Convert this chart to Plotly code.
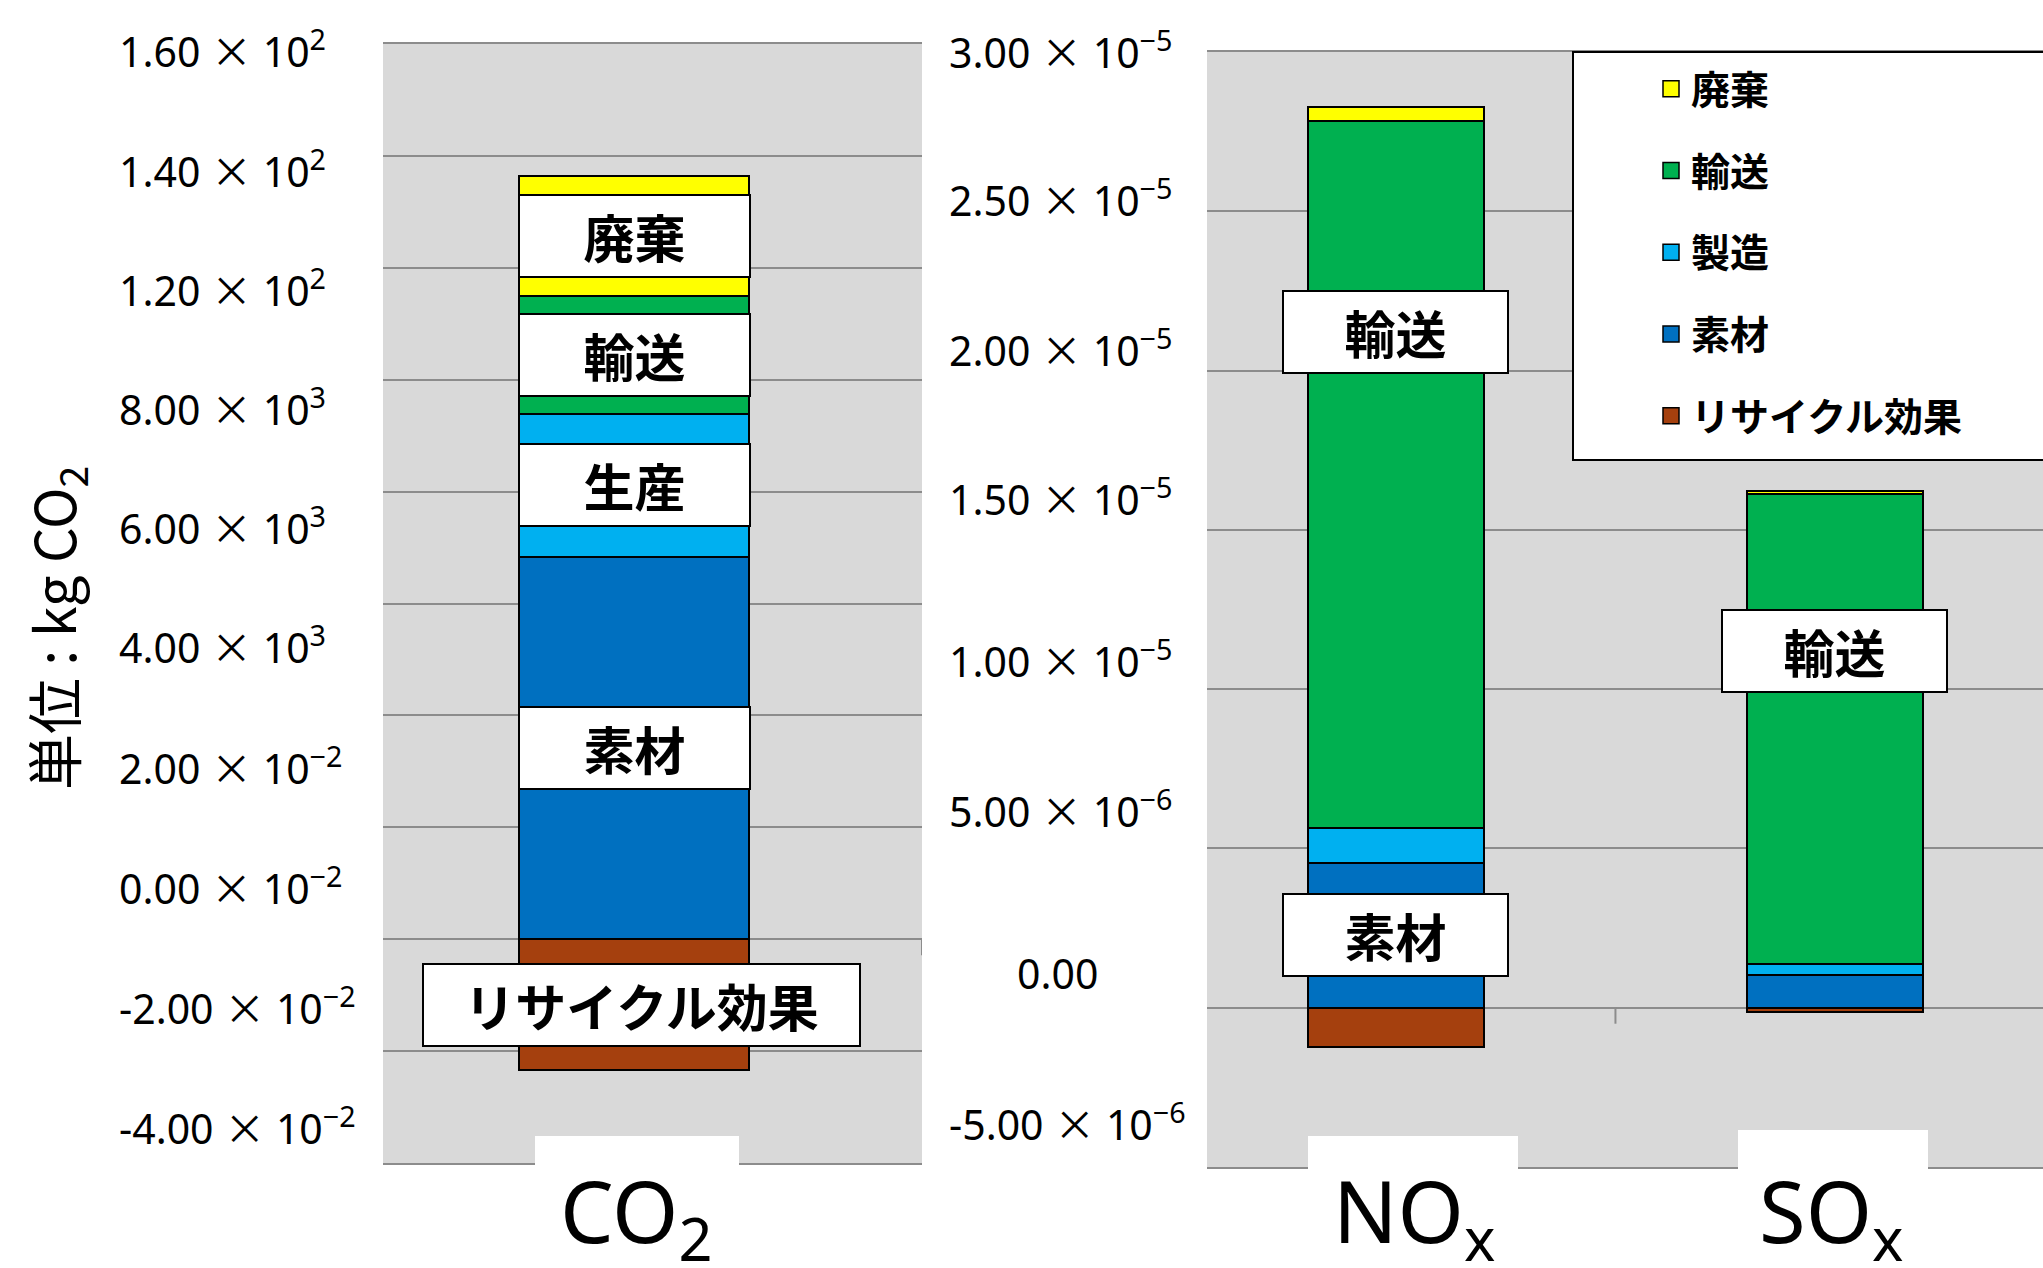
import plotly.graph_objects as go

W, H = 2043, 1268

# ---- data -------------------------------------------------------------
gases = ["CO2", "NOx", "SOx"]
gas_labels = ["CO<sub>2</sub>", "NO<sub>x</sub>", "SO<sub>x</sub>"]

# life-cycle contributions (CO2 panel on the left, NOx / SOx on the right)
material = [68.4, 4.55e-6, 1.03e-6]        # 素材
manufacturing = [25.5, 1.10e-6, 0.35e-6]   # 製造
transport = [21.0, 2.217e-5, 1.475e-5]     # 輸送
disposal = [21.5, 4.5e-7, 9.0e-8]          # 廃棄
recycling = [-23.4, -1.23e-6, -1.3e-7]     # リサイクル効果

stage_names = ["素材", "製造", "輸送", "廃棄", "リサイクル効果"]
stage_values = [material, manufacturing, transport, disposal, recycling]
legend_order = ["廃棄", "輸送", "製造", "素材", "リサイクル効果"]

# full-width multiplication sign, as in Japanese typesetting
TIMES = "<span style='font-family:Noto Sans CJK JP'>×</span>"
left_tick_text = [
    "1.60 {} 10<sup>2</sup>", "1.40 {} 10<sup>2</sup>", "1.20 {} 10<sup>2</sup>",
    "8.00 {} 10<sup>3</sup>", "6.00 {} 10<sup>3</sup>", "4.00 {} 10<sup>3</sup>",
    "2.00 {} 10<sup>−2</sup>", "0.00 {} 10<sup>−2</sup>",
    "-2.00 {} 10<sup>−2</sup>", "-4.00 {} 10<sup>−2</sup>",
]
right_tick_text = [
    "3.00 {} 10<sup>−5</sup>", "2.50 {} 10<sup>−5</sup>", "2.00 {} 10<sup>−5</sup>",
    "1.50 {} 10<sup>−5</sup>", "1.00 {} 10<sup>−5</sup>", "5.00 {} 10<sup>−6</sup>",
    "0.00", "-5.00 {} 10<sup>−6</sup>",
]

# ---- styling ----------------------------------------------------------
colors = {
    "廃棄": "#FFFF00",
    "輸送": "#00B050",
    "製造": "#00B0F0",
    "素材": "#0070C0",
    "リサイクル効果": "#A5400E",
}
CJK = "Noto Sans CJK JP"
LATIN = "Noto Sans"
GRID = "#8C8C8C"
PLOT_BG = "#D9D9D9"

def px_x(p):
    return p / W

def px_y(p):
    return 1 - p / H

LEFT_DOM_X = [px_x(383), px_x(922)]
LEFT_DOM_Y = [px_y(1163), px_y(44)]
RIGHT_DOM_X = [px_x(1207), 1.0]
RIGHT_DOM_Y = [px_y(1167), px_y(52)]
LEFT_RANGE = [-40, 160]
RIGHT_RANGE = [-5e-6, 3e-5]

fig = go.Figure()

# stacked bars: CO2 on the left subplot, NOx/SOx on the right subplot
for name, vals in zip(stage_names, stage_values):
    common = dict(
        name=name, legendgroup=name, showlegend=False, width=0.4,
        marker=dict(color=colors[name], line=dict(color="black", width=2)),
        hoverinfo="skip",
    )
    fig.add_trace(go.Bar(x=[gases[0]], y=[vals[0]], xaxis="x", yaxis="y", **common))
    fig.add_trace(go.Bar(x=gases[1:], y=vals[1:], xaxis="x2", yaxis="y2", **common))

# legend entries (square swatches)
for name in legend_order:
    fig.add_trace(go.Scatter(
        x=[None], y=[None], mode="markers", name=name, legendgroup=name,
        marker=dict(symbol="square", size=16, color=colors[name],
                    line=dict(color="black", width=1.5)),
        xaxis="x", yaxis="y",
    ))

axis_common = dict(showticklabels=False, ticks="", zeroline=False)
fig.update_layout(
    width=W, height=H, autosize=False,
    margin=dict(l=0, r=0, t=0, b=0),
    paper_bgcolor="white", plot_bgcolor=PLOT_BG,
    barmode="relative", bargap=0,
    xaxis=dict(domain=LEFT_DOM_X, type="category", range=[-0.437, 0.5],
               showgrid=False, showline=True, mirror=True, linecolor=GRID,
               linewidth=2, anchor="y", **axis_common),
    yaxis=dict(domain=LEFT_DOM_Y, range=LEFT_RANGE, dtick=20, tick0=0,
               showgrid=True, gridcolor=GRID, gridwidth=2, anchor="x",
               **axis_common),
    xaxis2=dict(domain=RIGHT_DOM_X, type="category", range=[-0.4305, 1.474],
                showgrid=False, showline=True, mirror=True, linecolor=GRID,
                linewidth=2, anchor="y2", **axis_common),
    yaxis2=dict(domain=RIGHT_DOM_Y, range=RIGHT_RANGE, dtick=5e-6, tick0=0,
                showgrid=True, gridcolor=GRID, gridwidth=2, anchor="x2",
                **axis_common),
    legend=dict(
        x=px_x(1651), y=px_y(57), xanchor="left", yanchor="top",
        bgcolor="rgba(0,0,0,0)", borderwidth=0,
        font=dict(family=CJK, size=39, color="black", weight="bold"),
        traceorder="grouped", tracegroupgap=28,
    ),
    showlegend=True,
)

# category boundary ticks on the zero line
left_tick_len = 16 * (LEFT_RANGE[1] - LEFT_RANGE[0]) / (1163 - 44)
right_tick_len = 16 * (RIGHT_RANGE[1] - RIGHT_RANGE[0]) / (1167 - 52)
fig.add_shape(type="line", xref="x", yref="y", x0=0.5, x1=0.5, y0=0, y1=-left_tick_len,
              line=dict(color=GRID, width=2))
fig.add_shape(type="line", xref="x2", yref="y2", x0=0.5, x1=0.5, y0=0, y1=-right_tick_len,
              line=dict(color=GRID, width=2))

# legend frame
fig.add_shape(type="rect", xref="paper", yref="paper",
              x0=px_x(1573), x1=1.01, y0=px_y(460), y1=px_y(52),
              fillcolor="white", line=dict(color="black", width=2), layer="above")

# white backing boxes under the gas names
cat_boxes = [(535, 739, 1136), (1308, 1518, 1136), (1738, 1928, 1130)]
for x0, x1, top in cat_boxes:
    fig.add_shape(type="rect", xref="paper", yref="paper",
                  x0=px_x(x0), x1=px_x(x1), y0=-0.05, y1=px_y(top),
                  fillcolor="white", line=dict(width=0), layer="above")

# gas names
cat_x = [(px_x(636), gas_labels[0]), (px_x(1414), gas_labels[1]), (px_x(1831), gas_labels[2])]
for x, txt in cat_x:
    fig.add_annotation(x=x, y=px_y(1150), xref="paper", yref="paper",
                       xanchor="center", yanchor="top", text=txt, showarrow=False,
                       font=dict(family=LATIN, size=85, color="black"))

# y tick labels
left_tick_y = [49, 169, 288, 407, 526, 645, 766, 886, 1006, 1126]
for txt, yp in zip(left_tick_text, left_tick_y):
    fig.add_annotation(x=px_x(117), y=px_y(yp), xref="paper", yref="paper",
                       xanchor="left", yanchor="middle", text=txt.format(TIMES),
                       showarrow=False,
                       font=dict(family=LATIN, size=41, color="black"))

right_tick_y = [50, 198, 348, 497, 659, 809, 973, 1122]
for txt, yp in zip(right_tick_text, right_tick_y):
    if txt == "0.00":
        fig.add_annotation(x=px_x(1057), y=px_y(yp), xref="paper", yref="paper",
                           xanchor="center", yanchor="middle", text=txt, showarrow=False,
                           font=dict(family=LATIN, size=41, color="black"))
    else:
        fig.add_annotation(x=px_x(947), y=px_y(yp), xref="paper", yref="paper",
                           xanchor="left", yanchor="middle", text=txt.format(TIMES),
                           showarrow=False,
                           font=dict(family=LATIN, size=41, color="black"))

# y axis title
fig.add_annotation(x=px_x(55), y=px_y(628), xref="paper", yref="paper",
                   xanchor="center", yanchor="middle", textangle=-90,
                   text="単位 : kg CO<sub>2</sub>", showarrow=False,
                   font=dict(family=CJK, size=56, color="black"))

# stage labels on the bars
def stage_label(xref, yref, x, y, text, width, xshift=0):
    fig.add_annotation(
        x=x, y=y, xref=xref, yref=yref, text=text, showarrow=False,
        xshift=xshift,
        font=dict(family=CJK, size=51, color="black", weight="bold"),
        bgcolor="white", bordercolor="black", borderwidth=2, borderpad=0,
        width=width, height=80, align="center", valign="middle",
    )

# CO2: labels centred on each segment
co2_label_text = {"素材": "素材", "製造": "生産", "輸送": "輸送", "廃棄": "廃棄"}
base = 0.0
for name, vals in zip(stage_names[:4], stage_values[:4]):
    v = vals[0]
    stage_label("x", "y", gases[0], base + v / 2, co2_label_text[name], 229)
    base += v
stage_label("x", "y", gases[0], recycling[0] / 2, "リサイクル効果", 435, xshift=7)

# NOx / SOx labels
stage_label("x2", "y2", gases[1], material[1] / 2, "素材", 223)
stage_label("x2", "y2", gases[1], 2.12e-5, "輸送", 223)
stage_label("x2", "y2", gases[2], 1.12e-5, "輸送", 223)

fig.write_html("out.html", post_script="document.body.style.margin='0';")
